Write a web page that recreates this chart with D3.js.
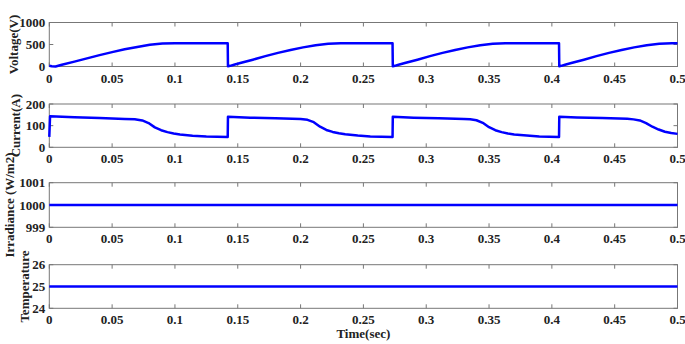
<!DOCTYPE html>
<html>
<head>
<meta charset="utf-8">
<script src="https://cdn.jsdelivr.net/npm/d3@7"></script>
<style>
  body { margin: 0; background: #fff; }
  text { font-family: "Liberation Serif", "Times New Roman", serif; font-weight: bold; fill: #222; }
</style>
</head>
<body>
<div id="content"></div>
<script>
const xTicks = [0, 0.05, 0.1, 0.15, 0.2, 0.25, 0.3, 0.35, 0.4, 0.45, 0.5];
const xTickLabels = ['0', '0.05', '0.1', '0.15', '0.2', '0.25', '0.3', '0.35', '0.4', '0.45', '0.5'];

// voltage (V) vs time (s)
const voltT = [0, 0.002, 0.005, 0.01, 0.02, 0.03, 0.04, 0.05, 0.06, 0.07, 0.08, 0.09, 0.1, 0.142,
  0.1422, 0.144, 0.147, 0.152, 0.162, 0.172, 0.182, 0.192, 0.202, 0.212, 0.222, 0.232, 0.242, 0.2732,
  0.2734, 0.275, 0.278, 0.283, 0.293, 0.303, 0.313, 0.323, 0.333, 0.343, 0.353, 0.363, 0.373, 0.4057,
  0.4059, 0.4075, 0.4105, 0.4155, 0.4255, 0.4355, 0.4455, 0.4555, 0.4655, 0.4755, 0.4855, 0.4955, 0.5];
const voltV = [15, 5, 0, 40, 110, 185, 258, 327, 390, 445, 495, 522, 530, 530,
  5, 15, 40, 80, 155, 235, 310, 375, 435, 485, 515, 528, 530, 530,
  5, 15, 40, 80, 155, 235, 310, 375, 435, 485, 515, 528, 530, 530,
  5, 15, 40, 80, 155, 235, 310, 375, 435, 485, 515, 528, 530];

// current (A) vs time (s)
const currT = [0, 0.0006, 0.02, 0.04, 0.06, 0.068, 0.074, 0.079, 0.084, 0.089, 0.094, 0.099, 0.104, 0.114, 0.125, 0.142,
  0.1422, 0.16, 0.18, 0.2, 0.2055, 0.2105, 0.2155, 0.2205, 0.2255, 0.2305, 0.2355, 0.2455, 0.2555, 0.2732,
  0.2734, 0.29, 0.31, 0.33, 0.335, 0.34, 0.345, 0.35, 0.355, 0.36, 0.365, 0.37, 0.38, 0.39, 0.4057,
  0.4059, 0.42, 0.44, 0.46, 0.465, 0.47, 0.475, 0.48, 0.485, 0.49, 0.495, 0.5];
const currI = [48, 143, 139, 135, 131, 130, 124, 112, 92, 79, 70, 64, 59, 53, 50, 48,
  141, 137, 134, 131, 127, 116, 95, 80, 71, 65, 60, 54, 50, 48,
  141, 137, 134, 131, 130, 125, 113, 93, 79, 70, 64, 59, 54, 50, 48,
  141, 138, 135, 132, 129, 124, 112, 95, 82, 72, 66, 62];

const irrT = [0, 0.5];
const irrV = [1000, 1000];
const tempT = [0, 0.5];
const tempV = [25, 25];

const panels = [
  { label: 'Voltage(V)', top: 22.5, bottom: 66.5, domain: [0, 1000], ticks: [0, 500, 1000], t: voltT, v: voltV, lx: 13 },
  { label: 'Current(A)', top: 104, bottom: 147.3, domain: [0, 200], ticks: [0, 100, 200], t: currT, v: currI, lx: 15 },
  { label: 'Irradiance (W/m2)', top: 182.7, bottom: 227.3, domain: [999, 1001], ticks: [999, 1000, 1001], t: irrT, v: irrV, lx: 9 },
  { label: 'Temperature', top: 264.7, bottom: 308.3, domain: [24, 26], ticks: [24, 25, 26], t: tempT, v: tempV, lx: 24 }
];

var width = 685;
var height = 344;
var left = 49.3, right = 677.5;

const svg = d3.select('#content')
              .append('svg')
              .attr('width', width)
              .attr('height', height);

const x = d3.scaleLinear().domain([0, 0.5]).range([left, right]);

panels.forEach(p => {
    const y = d3.scaleLinear().domain(p.domain).range([p.bottom, p.top]);
    const g = svg.append('g');

    // frame
    g.append('rect')
     .attr('x', left).attr('y', p.top)
     .attr('width', right - left).attr('height', p.bottom - p.top)
     .attr('fill', 'none').attr('stroke', '#777').attr('stroke-width', 1);

    // inward ticks, bottom & top
    g.selectAll('.xt').data(xTicks).enter().append('line')
     .attr('x1', d => x(d)).attr('x2', d => x(d))
     .attr('y1', p.bottom).attr('y2', p.bottom - 4)
     .attr('stroke', '#777');
    g.selectAll('.xt2').data(xTicks).enter().append('line')
     .attr('x1', d => x(d)).attr('x2', d => x(d))
     .attr('y1', p.top).attr('y2', p.top + 4)
     .attr('stroke', '#777');
    // inward ticks, left & right
    g.selectAll('.yt').data(p.ticks).enter().append('line')
     .attr('x1', left).attr('x2', left + 4)
     .attr('y1', d => y(d)).attr('y2', d => y(d))
     .attr('stroke', '#777');
    g.selectAll('.yt2').data(p.ticks).enter().append('line')
     .attr('x1', right).attr('x2', right - 4)
     .attr('y1', d => y(d)).attr('y2', d => y(d))
     .attr('stroke', '#777');

    // tick labels
    g.selectAll('.xl').data(xTicks).enter().append('text')
     .attr('x', d => x(d)).attr('y', p.bottom + 16)
     .attr('text-anchor', 'middle').attr('font-size', 13)
     .text((d, i) => xTickLabels[i]);
    g.selectAll('.yl').data(p.ticks).enter().append('text')
     .attr('x', left - 4).attr('y', d => y(d) + 4.5)
     .attr('text-anchor', 'end').attr('font-size', 13)
     .text(d => d);

    // ylabel
    g.append('text')
     .attr('transform', 'translate(' + p.lx + ',' + ((p.top + p.bottom) / 2) + ') rotate(-90)')
     .attr('text-anchor', 'middle').attr('dy', '0.35em').attr('font-size', 13)
     .text(p.label);

    // series
    const line = d3.line().x((d, i) => x(p.t[i])).y(d => y(d));
    g.append('path')
     .datum(p.v)
     .attr('d', line)
     .attr('fill', 'none')
     .attr('stroke', '#0000ff')
     .attr('stroke-width', 2.5)
     .attr('stroke-linejoin', 'round');
});

svg.append('text')
   .attr('x', (left + right) / 2).attr('y', 338)
   .attr('text-anchor', 'middle').attr('font-size', 13)
   .text('Time(sec)');
</script>
</body>
</html>
